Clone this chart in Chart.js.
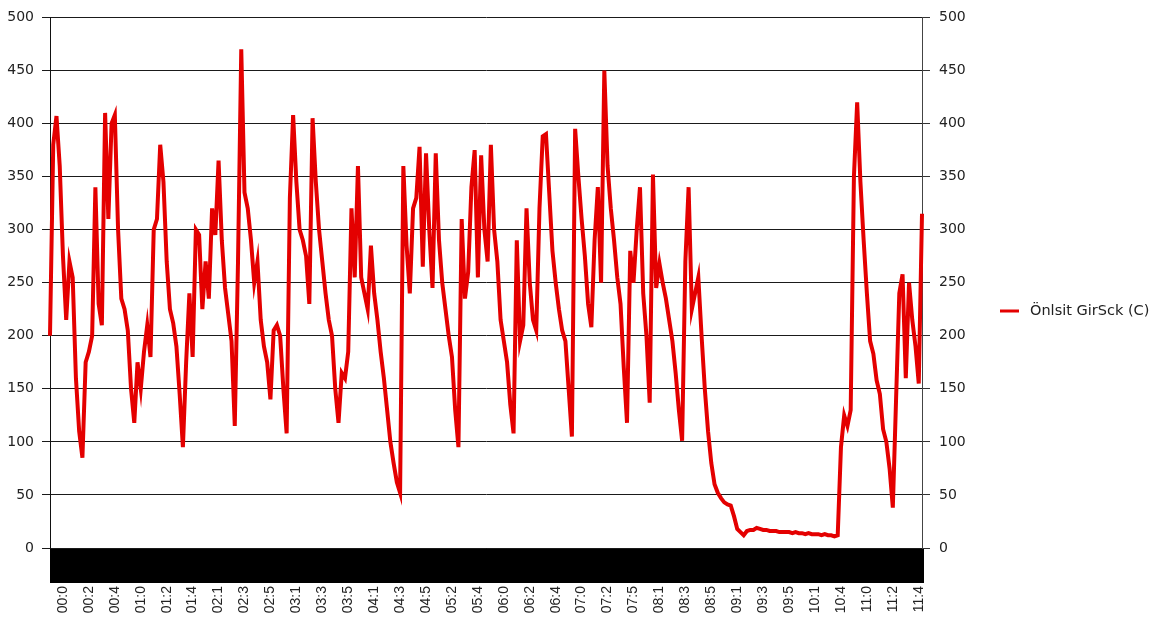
<!DOCTYPE html>
<html>
<head>
<meta charset="utf-8">
<script src="https://cdn.jsdelivr.net/npm/chart.js@4.4.1/dist/chart.umd.min.js"></script>
<style>
  html, body { margin: 0; padding: 0; background: #fff; }
  #wrap { width: 1163px; height: 617px; }
</style>
</head>
<body>
<div id="wrap"><canvas id="c" width="1163" height="617"></canvas></div>
<script>
// Series name shown in the legend
const seriesLabel = 'Önlsit GirSck (C)';

// Time labels printed under the axis (one every 8 samples, starting at sample 4)
const xTickLabels = [
  '00:0', '00:2', '00:4', '01:0', '01:2', '01:4', '02:1', '02:3', '02:5', '03:1',
  '03:3', '03:5', '04:1', '04:3', '04:5', '05:2', '05:4', '06:0', '06:2', '06:4',
  '07:0', '07:2', '07:5', '08:1', '08:3', '08:5', '09:1', '09:3', '09:5', '10:1',
  '10:4', '11:0', '11:2', '11:4'
];
const TICK_EVERY = 8;
const TICK_OFFSET = 4;

// Temperature samples (C)
const temps = [
  200, 380, 407, 360, 275, 215, 270, 255, 160, 110, 85, 175, 185, 200, 340, 230,
  210, 410, 310, 400, 408, 300, 235, 225, 205, 150, 118, 175, 150, 185, 210, 180,
  300, 310, 380, 345, 270, 225, 212, 190, 145, 95, 175, 240, 180, 300,
  295, 225, 270, 235, 320, 295, 365, 290, 245, 220, 195, 115, 270, 470, 335, 320,
  290, 250, 270, 215, 190, 175, 140, 205, 210, 200, 150, 108, 330, 408, 345, 300,
  290, 275, 230, 405, 345, 300, 270, 240, 215, 200, 150, 118, 165,
  160, 185, 320, 255, 360, 255, 240, 225, 285, 240, 215, 185, 160, 130, 100, 80,
  62, 52, 360, 285, 240, 320, 330, 378, 265, 372, 300, 245, 372, 290, 250, 225,
  200, 180, 130, 95, 310, 235, 260, 340, 375, 255, 370, 300, 270,
  380, 300, 270, 215, 195, 175, 135, 108, 290, 195, 210, 320, 250, 215, 205, 320,
  388, 390, 335, 280, 250, 225, 205, 195, 150, 105, 395, 350, 310, 275, 230, 208,
  290, 340, 250, 450, 360, 320, 290, 255, 230, 170, 118, 280, 250, 300,
  340, 240, 200, 137, 352, 245, 268, 250, 235, 215, 195, 165, 130, 101, 270, 340,
  225, 240, 255, 200, 150, 110, 80, 60, 52, 47, 43, 41, 40, 30, 18, 15,
  12, 16, 17, 17, 19, 18, 17, 17, 16, 16, 16, 15, 15,
  15, 15, 14, 15, 14, 14, 13, 14, 13, 13, 13, 12, 13, 12, 12, 11,
  12, 95, 125, 115, 130, 350, 420, 345, 290, 240, 195, 183, 158, 145, 112, 100,
  75, 38, 140, 240, 258, 160, 250, 215, 190, 155, 315
];

// Value axis range
const yMin = 0;
const yMax = 500;
const yStep = 50;

// One category per sample; only every 8th one carries a printed time
const categories = temps.map((_, i) =>
  (i >= TICK_OFFSET && (i - TICK_OFFSET) % TICK_EVERY === 0)
    ? (xTickLabels[(i - TICK_OFFSET) / TICK_EVERY] || '')
    : ''
);

const LINE_COLOR = 'rgb(228, 0, 0)';
const TEXT_COLOR = '#222';

// Solid black band under the plot, where the category axis sits
const axisBand = {
  id: 'axisBand',
  beforeDraw(chart) {
    const { ctx, chartArea: a } = chart;
    ctx.save();
    ctx.fillStyle = '#000';
    ctx.fillRect(a.left, a.bottom, a.right - a.left + 2, 35);
    ctx.restore();
  }
};

// Legend entry drawn at the right of the chart
const sideLegend = {
  id: 'sideLegend',
  afterDraw(chart) {
    const { ctx } = chart;
    const ds = chart.data.datasets[0];
    const y = 311;
    ctx.save();
    ctx.strokeStyle = ds.borderColor;
    ctx.lineWidth = 3;
    ctx.beginPath();
    ctx.moveTo(1000, y);
    ctx.lineTo(1019, y);
    ctx.stroke();
    ctx.fillStyle = TEXT_COLOR;
    ctx.font = '14.5px "DejaVu Sans"';
    ctx.textAlign = 'left';
    ctx.textBaseline = 'middle';
    ctx.fillText(ds.label, 1030, y);
    ctx.restore();
  }
};

const tickFont = { family: 'DejaVu Sans', size: 14 };

new Chart(document.getElementById('c'), {
  type: 'line',
  data: {
    labels: categories,
    datasets: [{
      label: seriesLabel,
      data: temps,
      borderColor: LINE_COLOR,
      backgroundColor: LINE_COLOR,
      borderWidth: 4,
      pointRadius: 0,
      tension: 0,
      fill: false
    }]
  },
  options: {
    responsive: false,
    devicePixelRatio: 1,
    animation: false,
    layout: { padding: { top: 17, left: 0, right: 0, bottom: 0 } },
    plugins: {
      legend: { display: false },
      tooltip: { enabled: false }
    },
    scales: {
      x: {
        type: 'category',
        offset: false,
        grid: { display: false, drawTicks: false },
        border: { display: false },
        ticks: {
          autoSkip: false,
          minRotation: 90,
          maxRotation: 90,
          padding: 38,
          color: TEXT_COLOR,
          font: { family: 'Liberation Sans', size: 14 }
        },
        afterFit(s) { s.height = 69; }
      },
      y: {
        position: 'left',
        min: yMin,
        max: yMax,
        ticks: { stepSize: yStep, padding: 8, color: TEXT_COLOR, font: tickFont },
        grid: { color: '#1a1a1a', lineWidth: 1, drawTicks: true, tickLength: 8 },
        border: { display: true, color: '#111', width: 1 },
        afterFit(s) { s.width = 50; }
      },
      y2: {
        position: 'right',
        min: yMin,
        max: yMax,
        ticks: { stepSize: yStep, padding: 9, color: TEXT_COLOR, font: tickFont },
        grid: { drawOnChartArea: false, color: '#333', drawTicks: true, tickLength: 8 },
        border: { display: true, color: '#444', width: 1 },
        afterFit(s) { s.width = 241; }
      }
    }
  },
  plugins: [axisBand, sideLegend]
});
</script>
</body>
</html>
